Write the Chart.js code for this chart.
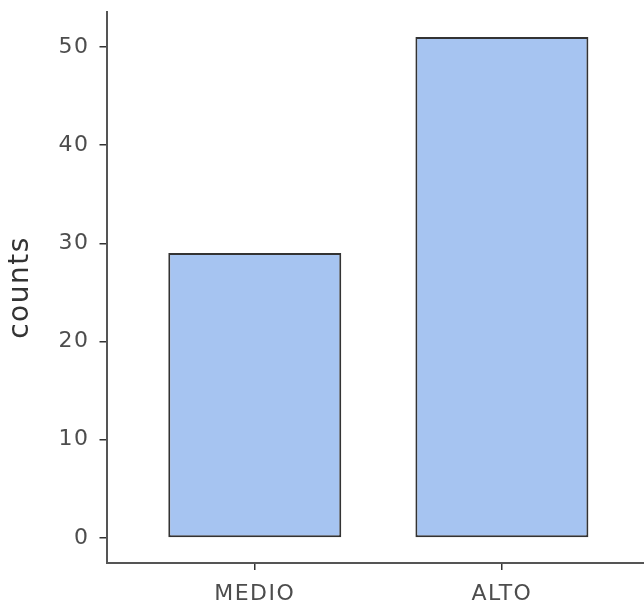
<!DOCTYPE html>
<html lang="en">
<head>
  <meta charset="UTF-8">
  <title>counts</title>
  <script src="https://cdn.jsdelivr.net/npm/chart.js"></script>
  <style>
    html, body {
      margin: 0;
      padding: 0;
      background: #fff;
      overflow: hidden;
    }
    #wrap {
      width: 644px;
      height: 603px;
    }
  </style>
</head>
<body>
  <div id="wrap"><canvas id="chart"></canvas></div>

  <script>
    const categories = ['MEDIO', 'ALTO'];
    const counts = [29, 51];
    const yTicks = [0, 10, 20, 30, 40, 50];

    const font = "'DejaVu Sans', sans-serif";

    // the reference text is spaced out a bit, canvas can do that
    const spacing = {
      id: 'spacing',
      beforeUpdate: c => { c.ctx.letterSpacing = '1.5px'; },
      beforeDraw: c => { c.ctx.letterSpacing = '1.5px'; }
    };

    new Chart(document.getElementById('chart'), {
      type: 'bar',
      plugins: [spacing],
      data: {
        datasets: [{
          label: 'counts',
          data: categories.map((c, i) => ({ x: i + 1, y: counts[i] })),
          backgroundColor: '#a6c4f1',
          borderColor: '#333',
          borderWidth: 2,
          borderSkipped: false,
          barPercentage: 1,
          categoryPercentage: 0.7
        }]
      },
      options: {
        responsive: true,
        maintainAspectRatio: false,
        animation: false,
        layout: { padding: { top: 12, right: 0, left: 0, bottom: 0 } },
        plugins: {
          legend: { display: false },
          tooltip: { enabled: false }
        },
        scales: {
          x: {
            type: 'linear',
            offset: false,
            min: 0.4,
            max: 2.575,
            afterBuildTicks: s => { s.ticks = categories.map((c, i) => ({ value: i + 1 })); },
            afterFit: s => { s.height = 40; s.paddingLeft = 0; s.paddingRight = 0; },
            grid: { offset: false, drawOnChartArea: false, drawTicks: true, tickLength: 7, color: '#333', lineWidth: 1.5 },
            border: { display: true, color: '#555', width: 2 },
            ticks: {
              callback: v => categories[v - 1],
              color: '#4d4d4d',
              font: { family: font, size: 22 },
              padding: 11,
              maxRotation: 0
            }
          },
          y: {
            min: -2.55,
            max: 53.55,
            afterBuildTicks: s => { s.ticks = yTicks.map(v => ({ value: v })); },
            afterFit: s => { s.width = 106.5; s.paddingTop = 0; s.paddingBottom = 0; },
            grid: { drawOnChartArea: false, drawTicks: true, tickLength: 7, color: '#333', lineWidth: 1.5 },
            border: { display: true, color: '#555', width: 2 },
            ticks: {
              color: '#4d4d4d',
              font: { family: font, size: 22 },
              padding: 10
            },
            title: {
              display: true,
              text: 'counts',
              color: '#333',
              font: { family: font, size: 28 },
              padding: { top: 4, bottom: 0 }
            }
          }
        }
      }
    });
  </script>
</body>
</html>
